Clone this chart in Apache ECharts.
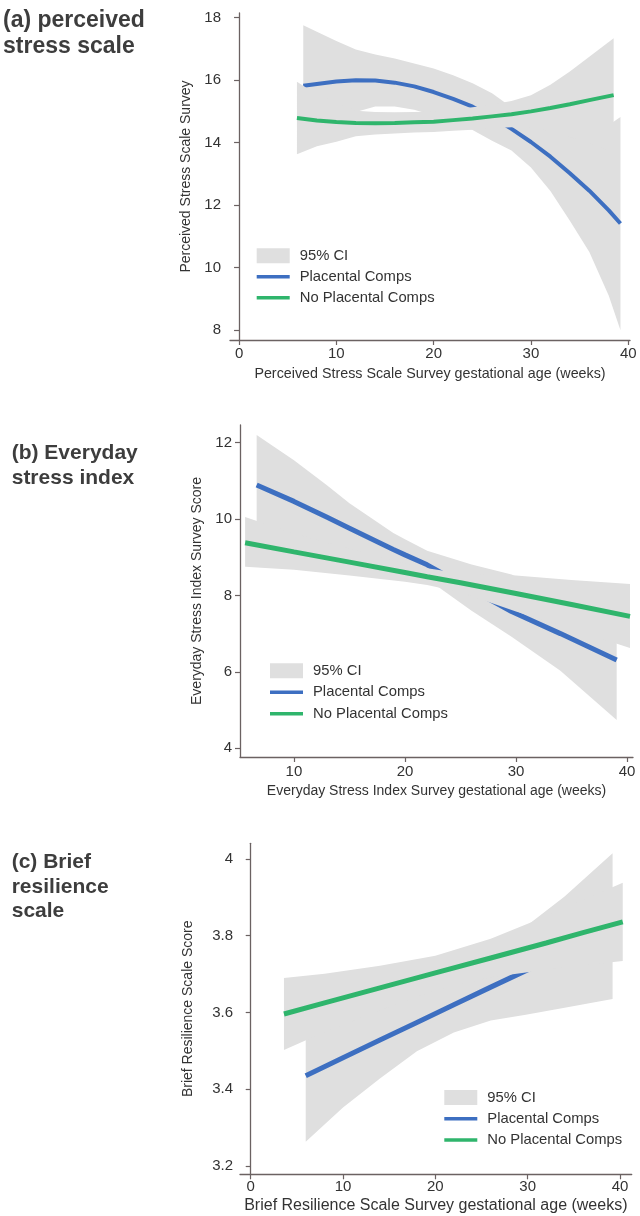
<!DOCTYPE html>
<html>
<head>
<meta charset="utf-8">
<title>Stress and resilience by gestational age</title>
<script src="https://cdn.jsdelivr.net/npm/echarts@6/dist/echarts.min.js"></script>
<style>
  html, body { margin: 0; padding: 0; background: #ffffff; }
  #chart { width: 640px; height: 1216px; }
</style>
</head>
<body>
<div id="chart"></div>
<script>
// ---------- (a) Perceived Stress Scale ----------
const pssWeeksComp = [6.6, 8, 10, 12, 14, 16, 18, 20, 22, 24, 26, 28, 30, 32, 34, 36, 38, 39.2];
const pssComp      = [15.82, 15.88, 15.96, 16.00, 15.99, 15.92, 15.80, 15.62, 15.40, 15.15, 14.82, 14.44, 14.02, 13.55, 13.02, 12.46, 11.83, 11.41];
const pssCompLo    = [13.88, 14.21, 14.67, 14.98, 15.16, 15.16, 15.05, 14.87, 14.64, 14.40, 14.06, 13.75, 13.20, 12.45, 11.50, 10.50, 9.10, 7.99];
const pssCompHi    = [17.76, 17.55, 17.25, 16.98, 16.82, 16.69, 16.53, 16.37, 16.16, 15.90, 15.58, 15.13, 14.84, 14.65, 14.54, 14.42, 14.56, 14.82];
const pssWeeksNo   = [5.95, 8, 10, 12, 14, 16, 18, 20, 22, 24, 26, 28, 30, 32, 34, 36, 38.5];
const pssNo        = [14.79, 14.71, 14.66, 14.63, 14.62, 14.63, 14.65, 14.67, 14.72, 14.77, 14.84, 14.91, 15.00, 15.11, 15.23, 15.36, 15.52];
const pssNoLo      = [13.63, 13.88, 14.03, 14.20, 14.26, 14.29, 14.32, 14.34, 14.38, 14.41, 14.46, 14.49, 14.48, 14.37, 14.18, 13.97, 13.70];
const pssNoHi      = [15.95, 15.54, 15.29, 15.02, 14.98, 14.97, 14.98, 15.00, 15.06, 15.13, 15.22, 15.33, 15.52, 15.85, 16.28, 16.75, 17.34];
const pssXTicks = [0, 10, 20, 30, 40];
const pssYTicks = [8, 10, 12, 14, 16, 18];

// ---------- (b) Everyday Stress Index ----------
const esiWeeksComp = [6.64, 10, 12.94, 15, 18.95, 20, 22, 26, 29.6, 34, 39.07];
const esiComp      = [10.89, 10.46, 10.05, 9.76, 9.20, 9.06, 8.80, 8.15, 7.58, 7.00, 6.31];
const esiCompLo    = [9.58, 9.38, 9.21, 9.11, 8.77, 8.65, 8.43, 7.60, 6.92, 6.03, 4.74];
const esiCompHi    = [12.20, 11.54, 10.89, 10.41, 9.63, 9.47, 9.17, 8.81, 8.55, 8.00, 7.88];
const esiWeeksNo   = [5.6, 10, 15, 20, 22, 25, 30, 35, 40.27];
const esiNo        = [9.38, 9.14, 8.87, 8.60, 8.49, 8.33, 8.05, 7.76, 7.45];
const esiNoLo      = [8.75, 8.67, 8.52, 8.36, 8.27, 8.08, 7.58, 7.12, 6.62];
const esiNoHi      = [10.05, 9.62, 9.22, 8.84, 8.71, 8.58, 8.52, 8.40, 8.30];
const esiXTicks = [10, 20, 30, 40];
const esiYTicks = [4, 6, 8, 10, 12];

// ---------- (c) Brief Resilience Scale ----------
const brsWeeksComp = [5.96, 10, 14, 18, 22, 26, 29.8, 34, 39.2];
const brsComp      = [3.435, 3.482, 3.528, 3.574, 3.620, 3.666, 3.709, 3.757, 3.825];
const brsCompLo    = [3.263, 3.352, 3.428, 3.499, 3.548, 3.579, 3.594, 3.612, 3.635];
const brsCompHi    = [3.607, 3.612, 3.628, 3.649, 3.692, 3.753, 3.824, 3.902, 4.015];
const brsWeeksNo   = [3.6, 8, 14, 20, 26, 32, 36, 40.3];
const brsNo        = [3.596, 3.625, 3.664, 3.703, 3.742, 3.781, 3.808, 3.836];
const brsNoLo      = [3.502, 3.549, 3.606, 3.658, 3.692, 3.711, 3.723, 3.734];
const brsNoHi      = [3.690, 3.701, 3.722, 3.748, 3.792, 3.851, 3.893, 3.938];
const brsXTicks = [0, 10, 20, 30, 40];
const brsYTicks = [3.2, 3.4, 3.6, 3.8, 4];

const FONT = '"Liberation Sans", Arial, Helvetica, sans-serif';
const BLUE = '#3d6fc1';
const GREEN = '#2fb56c';
const BAND = '#dfdfdf';
const AXIS = '#6b6262';
const TEXT = '#333333';

const pairs = (xs, ys) => xs.map((x, i) => [x, ys[i]]);

// Confidence band: one filled polygon (upper edge forward, lower edge back),
// placed through the axis scales with api.coord.
function bandSeries(k, ws, lo, hi, z) {
  return {
    type: 'custom', name: '95% CI', xAxisIndex: k, yAxisIndex: k,
    silent: true, clip: true, z: z, color: BAND, itemStyle: { color: BAND },
    data: ws.map((w, i) => [w, lo[i], hi[i]]),
    encode: { x: 0, y: [1, 2] },
    renderItem: function (params, api) {
      if (params.dataIndex !== 0) return null;
      const pts = [];
      for (let i = 0; i < ws.length; i++) pts.push(api.coord([ws[i], hi[i]]));
      for (let i = ws.length - 1; i >= 0; i--) pts.push(api.coord([ws[i], lo[i]]));
      return { type: 'polygon', shape: { points: pts }, style: { fill: BAND, stroke: null } };
    }
  };
}

function lineSeries(k, name, ws, vs, color, width, z) {
  return {
    type: 'line', name: name, xAxisIndex: k, yAxisIndex: k, z: z,
    symbol: 'none', silent: true, color: color,
    data: pairs(ws, vs), lineStyle: { width: width, color: color, cap: 'butt' }
  };
}

// Drawing order: band 1, fitted line 1, band 2, fitted line 2.
function panelSeries(k, p, w) {
  return [
    bandSeries(k, p.wc, p.lc, p.hc, 1),
    lineSeries(k, 'Placental Comps', p.wc, p.c, BLUE, w, 2),
    bandSeries(k, p.wn, p.ln, p.hn, 3),
    lineSeries(k, 'No Placental Comps', p.wn, p.n, GREEN, w, 4)
  ];
}

function xAxisOf(k, min, max, ticks, name, nameSize, nameGap, labelMargin) {
  return {
    type: 'value', gridIndex: k, min: min, max: max,
    name: name, nameLocation: 'middle', nameGap: nameGap,
    nameTextStyle: { fontFamily: FONT, fontSize: nameSize, color: TEXT },
    axisLine: { show: true, lineStyle: { color: AXIS, width: 1.3 } },
    axisTick: { show: true, length: 5, customValues: ticks, lineStyle: { color: AXIS, width: 1.2 } },
    axisLabel: { customValues: ticks, margin: labelMargin, fontFamily: FONT, fontSize: 15, color: TEXT },
    splitLine: { show: false }
  };
}

function yAxisOf(k, min, max, ticks, name, nameGap, labelMargin) {
  return {
    type: 'value', gridIndex: k, min: min, max: max,
    name: name, nameLocation: 'middle', nameGap: nameGap, nameRotate: 90,
    nameTextStyle: { fontFamily: FONT, fontSize: 14, color: TEXT },
    axisLine: { show: true, lineStyle: { color: AXIS, width: 1.3 } },
    axisTick: { show: true, length: 5, customValues: ticks, lineStyle: { color: AXIS, width: 1.2 } },
    axisLabel: { customValues: ticks, margin: labelMargin, fontFamily: FONT, fontSize: 15, color: TEXT },
    splitLine: { show: false }
  };
}

const LINE_ICON = 'path://M0,0H33V3.5H0Z';

function legendAt(left, top, gap) {
  return {
    left: left, top: top, orient: 'vertical', padding: 0,
    itemWidth: 33, itemHeight: 15, itemGap: gap, selectedMode: false,
    symbolKeepAspect: true,
    textStyle: { fontFamily: FONT, fontSize: 14.8, lineHeight: 15, color: TEXT, padding: [0, 0, 0, 5] },
    data: [
      { name: '95% CI', icon: 'rect', itemStyle: { color: BAND, borderWidth: 0 } },
      { name: 'Placental Comps', icon: LINE_ICON, itemStyle: { color: BLUE, borderWidth: 0 } },
      { name: 'No Placental Comps', icon: LINE_ICON, itemStyle: { color: GREEN, borderWidth: 0 } }
    ]
  };
}

function titleAt(text, left, top, size, lh) {
  return {
    text: text, left: left, top: top, padding: 0,
    textStyle: { fontFamily: FONT, fontSize: size, fontWeight: 'bold', lineHeight: lh, color: '#3d3d3d' }
  };
}

const chart = echarts.init(document.getElementById('chart'), null, { renderer: 'canvas' });

chart.setOption({
  animation: false,
  backgroundColor: '#ffffff',
  title: [
    titleAt('(a) perceived\nstress scale', 3, 8, 23, 26),
    titleAt('(b) Everyday\nstress index', 11.7, 441, 21, 24.5),
    titleAt('(c) Brief\nresilience\nscale', 11.7, 850.4, 21, 24.5)
  ],
  legend: [
    legendAt(256.7, 248.3, 6),
    legendAt(270, 663.3, 6.5),
    legendAt(444.3, 1090, 6.3)
  ],
  grid: [
    { left: 230, top: 13, width: 400, height: 327 },
    { left: 240, top: 425, width: 393, height: 332 },
    { left: 240, top: 843.3, width: 391.7, height: 331 }
  ],
  xAxis: [
    xAxisOf(0, -0.93, 40.18, pssXTicks, 'Perceived Stress Scale Survey gestational age (weeks)', 14.3, 27, 6),
    xAxisOf(1, 5.14, 40.54, esiXTicks, 'Everyday Stress Index Survey gestational age (weeks)', 14, 27, 7),
    xAxisOf(2, -1.16, 41.27, brsXTicks, 'Brief Resilience Scale Survey gestational age (weeks)', 16, 23, 5)
  ],
  yAxis: [
    yAxisOf(0, 7.68, 18.15, pssYTicks, 'Perceived Stress Scale Survey', 37, 9),
    yAxisOf(1, 3.77, 12.46, esiYTicks, 'Everyday Stress Index Survey Score', 35, 8),
    yAxisOf(2, 3.178, 4.041, brsYTicks, 'Brief Resilience Scale Score', 45, 7)
  ],
  series: [].concat(
    panelSeries(0, { wc: pssWeeksComp, c: pssComp, lc: pssCompLo, hc: pssCompHi,
                     wn: pssWeeksNo, n: pssNo, ln: pssNoLo, hn: pssNoHi }, 4),
    panelSeries(1, { wc: esiWeeksComp, c: esiComp, lc: esiCompLo, hc: esiCompHi,
                     wn: esiWeeksNo, n: esiNo, ln: esiNoLo, hn: esiNoHi }, 5),
    panelSeries(2, { wc: brsWeeksComp, c: brsComp, lc: brsCompLo, hc: brsCompHi,
                     wn: brsWeeksNo, n: brsNo, ln: brsNoLo, hn: brsNoHi }, 5)
  )
});
</script>
</body>
</html>
